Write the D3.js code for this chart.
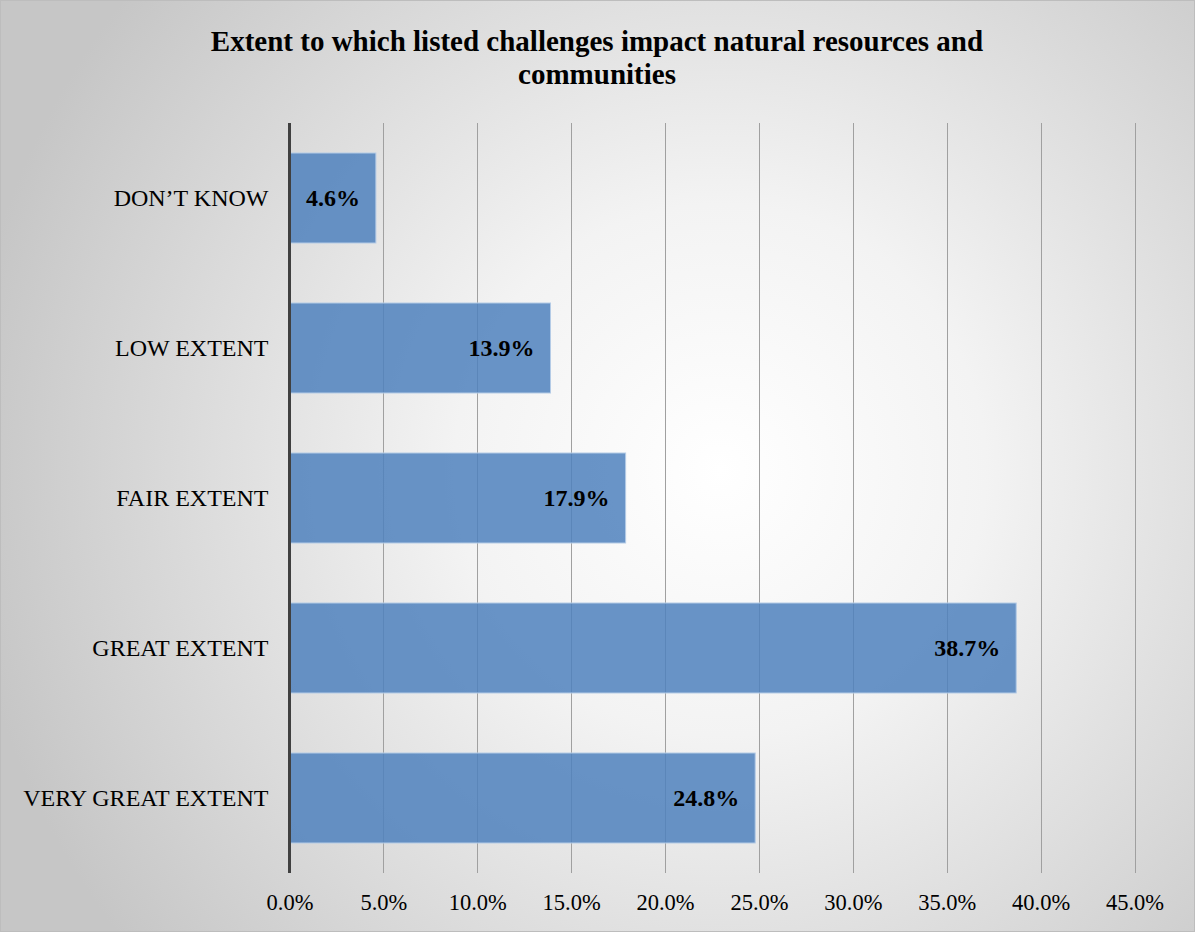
<!DOCTYPE html>
<html>
<head>
<meta charset="utf-8">
<script src="https://cdn.jsdelivr.net/npm/d3@7"></script>
<style>
  html, body { margin: 0; padding: 0; background: #fff; }
  svg { display: block; }
  text { font-family: "Liberation Serif", "Times New Roman", serif; }
</style>
</head>
<body>
<svg id="chart" width="1195" height="932"></svg>
<script>
// Survey responses: share of respondents per category
const categories = ["DON\u2019T KNOW", "LOW EXTENT", "FAIR EXTENT", "GREAT EXTENT", "VERY GREAT EXTENT"];
const values = [4.6, 13.9, 17.9, 38.7, 24.8];
const tickValues = [0, 5, 10, 15, 20, 25, 30, 35, 40, 45];
const titleLines = ["Extent to which listed challenges impact natural resources and", "communities"];

const W = 1195, H = 932;
const svg = d3.select("#chart");

// Soft radial background
const defs = svg.append("defs");
const grad = defs.append("radialGradient")
  .attr("id", "bg").attr("gradientUnits", "userSpaceOnUse")
  .attr("cx", 720).attr("cy", 470).attr("r", 760);
grad.append("stop").attr("offset", "0").attr("stop-color", "#ffffff");
grad.append("stop").attr("offset", "0.35").attr("stop-color", "#f3f3f3");
grad.append("stop").attr("offset", "1").attr("stop-color", "#c6c6c6");

svg.append("rect").attr("x", 0.5).attr("y", 0.5).attr("width", W - 1).attr("height", H - 1)
  .attr("fill", "url(#bg)").attr("stroke", "#bdbdbd").attr("stroke-width", 1);

// Title
svg.append("text")
  .attr("text-anchor", "middle")
  .attr("font-weight", "bold").attr("font-size", 29).attr("fill", "#000")
  .selectAll("tspan").data(titleLines).join("tspan")
  .attr("x", 597).attr("y", (d, i) => 51 + i * 33)
  .text(d => d);

const plot = { left: 289.5, right: 1134.5, top: 123, bottom: 873 };

const x = d3.scaleLinear().domain([0, 45]).range([plot.left, plot.right]);
const y = d3.scaleBand().domain(categories).range([plot.top, plot.bottom])
  .paddingInner(0.4).paddingOuter(0.2);

// Vertical gridlines
svg.append("g").selectAll("line").data(tickValues.slice(1)).join("line")
  .attr("x1", d => Math.round(x(d)) + 0.5).attr("x2", d => Math.round(x(d)) + 0.5)
  .attr("y1", plot.top).attr("y2", plot.bottom)
  .attr("stroke", "#a0a0a0").attr("stroke-width", 1);

// Bars
svg.append("g").selectAll("rect").data(values).join("rect")
  .attr("x", x(0))
  .attr("y", (d, i) => y(categories[i]))
  .attr("width", d => x(d) - x(0))
  .attr("height", y.bandwidth())
  .attr("fill", "#4f81bd").attr("fill-opacity", 0.85)
  .attr("stroke", "#b4cbe6").attr("stroke-width", 1);

// Value labels inside bar ends
svg.append("g").selectAll("text").data(values).join("text")
  .attr("x", d => x(d) - 16)
  .attr("y", (d, i) => y(categories[i]) + y.bandwidth() / 2)
  .attr("dy", "0.35em")
  .attr("text-anchor", "end")
  .attr("font-weight", "bold").attr("font-size", 24).attr("fill", "#000")
  .text(d => d.toFixed(1) + "%");

// Category axis (left)
const yAxis = d3.axisLeft(y).tickSize(0).tickPadding(21);
const gy = svg.append("g").attr("transform", `translate(${plot.left},0)`).call(yAxis);
gy.select(".domain").remove();
gy.selectAll("text").attr("font-size", 24).attr("fill", "#000")
  .attr("font-family", "'Liberation Serif', 'Times New Roman', serif");

svg.append("line")
  .attr("x1", plot.left).attr("x2", plot.left)
  .attr("y1", plot.top).attr("y2", plot.bottom)
  .attr("stroke", "#404040").attr("stroke-width", 3);

// Value axis (bottom) — labels only
const xAxis = d3.axisBottom(x).tickValues(tickValues).tickSize(0).tickPadding(21)
  .tickFormat(d => d.toFixed(1) + "%");
const gx = svg.append("g").attr("transform", `translate(0,${plot.bottom})`).call(xAxis);
gx.select(".domain").remove();
gx.selectAll("text").attr("font-size", 22.5).attr("fill", "#000")
  .attr("font-family", "'Liberation Serif', 'Times New Roman', serif");
</script>
</body>
</html>
